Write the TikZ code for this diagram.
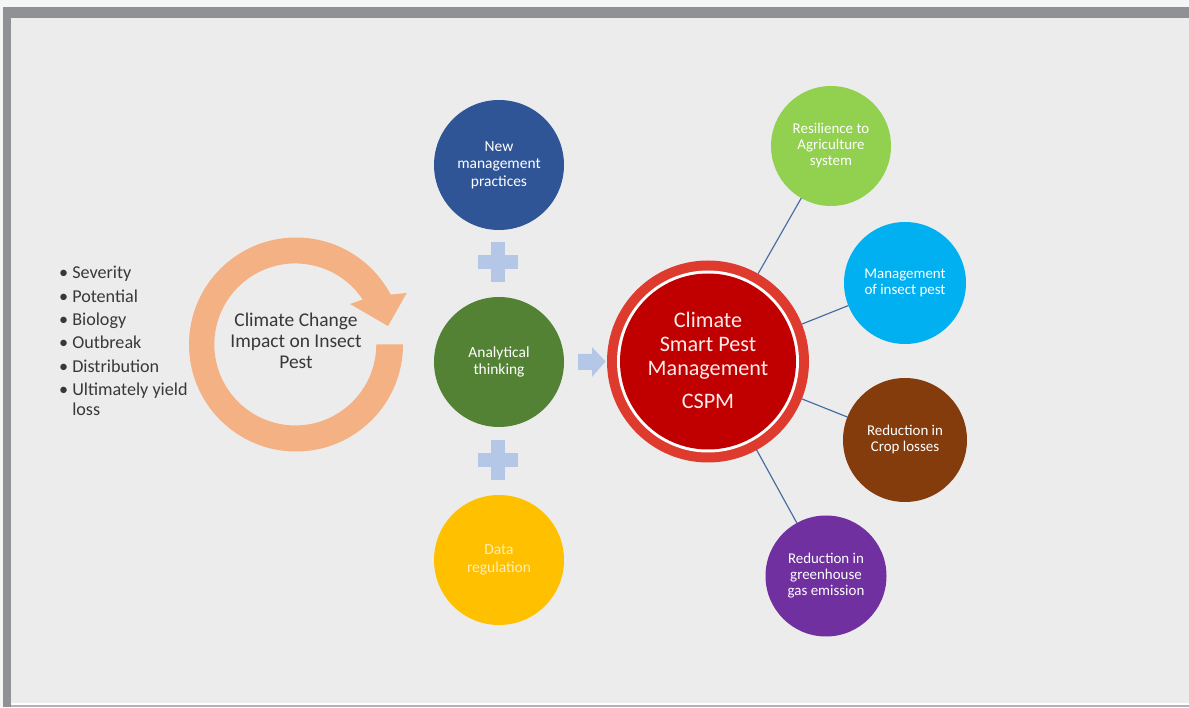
\documentclass[tikz,border=0pt]{standalone}
\usepackage{fontspec}
\setmainfont{Carlito}
\definecolor{pageout}{HTML}{F4F6F6}
\definecolor{framegray}{HTML}{8F9195}
\definecolor{panel}{HTML}{ECECEC}
\definecolor{ringc}{HTML}{F4B183}
\definecolor{plusc}{HTML}{B4C7E7}
\definecolor{linkc}{HTML}{44699E}
\definecolor{cblue}{HTML}{2F5597}
\definecolor{cgreen}{HTML}{548235}
\definecolor{cyellow}{HTML}{FFC000}
\definecolor{cred}{HTML}{C00000}
\definecolor{credring}{HTML}{DE3A2E}
\definecolor{slime}{HTML}{92D050}
\definecolor{scyan}{HTML}{00B0F0}
\definecolor{sbrown}{HTML}{843C0C}
\definecolor{spurple}{HTML}{7030A0}
\tikzset{
  bubble/.style={circle,inner sep=0pt,outer sep=0pt,minimum size=#1*0.75pt,text=white,align=center,font=\fontsize{11.6}{13}\selectfont},
  satellite/.style={bubble=#1,font=\fontsize{11.2}{12}\selectfont},
  link/.style={draw=linkc,line width=0.85pt},
  darktext/.style={text=black!78,inner sep=0pt}
}
\newcommand{\plusmark}[2]{%
  \fill[plusc] ({#1-7},{#2-20}) rectangle ({#1+7},{#2+20});
  \fill[plusc] ({#1-20},{#2-7}) rectangle ({#1+20},{#2+7});}
\newcommand{\bul}{\llap{•\hspace{3pt}}}
\begin{document}
\begin{tikzpicture}[x=0.75pt,y=0.75pt]
\useasboundingbox (0,0) rectangle (1189,707);
\fill[pageout] (0,0) rectangle (1189,707);
\fill[framegray] (3,0) rectangle (1189,700);
\fill[panel] (11,4) rectangle (1189,689);
\fill[white!95!panel] (11,2) rectangle (1189,4);
\fill[black!30] (11,0) rectangle (1189,2);
% climate ring
\fill[ringc] (403,362.5) arc[start angle=0,end angle=-332.2,radius=107]
  -- (406.7,414) -- (388,381) -- (350,403) -- (362.7,407.5)
  arc[start angle=33.7,end angle=360,radius=81] -- cycle;
\node[darktext,align=center,font=\fontsize{14.6}{15.8}\selectfont] (impact) at (296,366) {Climate Change\\Impact on Insect\\Pest};
\node[darktext,align=left,anchor=north west,font=\fontsize{13.6}{17.5}\selectfont] (effects) at (72,441)
  {\bul Severity\\\bul Potential\\\bul Biology\\\bul Outbreak\\\bul Distribution\\\bul Ultimately yield\\[-2.6pt]loss};
% centre column
\node[bubble=130,fill=cblue] (practices) at (499,542) {New\\management\\practices};
\node[bubble=130,fill=cgreen] (thinking) at (499,345) {Analytical\\thinking};
\node[bubble=130,fill=cyellow,text=white!72!cyellow] (data) at (499,147) {Data\\regulation};
\plusmark{498}{445}
\plusmark{498}{247}
\fill[plusc] (578,353) -- (592,353) -- (592,360) -- (605.5,345.5) -- (592,330) -- (592,337) -- (578,337) -- cycle;
% main circle
\node[circle,fill=credring,inner sep=0pt,outer sep=0pt,minimum size=151.5pt] (main) at (708,345.5) {};
\node[circle,fill=white,inner sep=0pt,minimum size=136.5pt] (mainwhite) at (main) {};
\node[circle,fill=cred,inner sep=0pt,minimum size=132pt] (maincore) at (main) {};
\node[text=white!92!cred,inner sep=0pt,align=center,font=\fontsize{16.6}{18}\selectfont] (cspmtext) at (708,361) {Climate\\Smart Pest\\Management};
\node[text=white!92!cred,inner sep=0pt,font=\fontsize{16.6}{18}\selectfont] (cspm) at (708,306) {CSPM};
% satellites
\node[satellite=120,fill=slime] (resilience) at (831,561) {Resilience to\\Agriculture\\system};
\node[satellite=122,fill=scyan] (insect) at (905,424) {Management\\of insect pest};
\node[satellite=124,fill=sbrown] (crop) at (905,267) {Reduction in\\Crop losses};
\node[satellite=121,fill=spurple] (gas) at (826,131) {Reduction in\\greenhouse\\gas emission};
\draw[link] (main) -- (resilience);
\draw[link] (main) -- (insect);
\draw[link] (main) -- (crop);
\draw[link] (main) -- (gas);
\end{tikzpicture}
\end{document}
